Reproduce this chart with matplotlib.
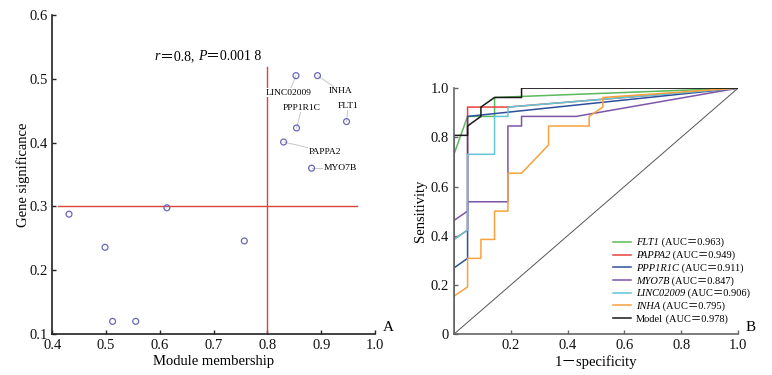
import matplotlib
matplotlib.use("Agg")
import matplotlib.pyplot as plt

plt.rcParams["font.family"] = ["Liberation Serif", "Noto Sans CJK SC", "DejaVu Sans"]

# panel A: module membership vs gene significance
mm = [0.431, 0.498, 0.512, 0.555, 0.613, 0.757, 0.853, 0.893, 0.947, 0.854, 0.830, 0.882]
gs = [0.288, 0.236, 0.120, 0.120, 0.298, 0.246, 0.505, 0.505, 0.433, 0.423, 0.401, 0.360]
gene_names = ["LINC02009", "INHA", "FLT1", "PPP1R1C", "PAPPA2", "MYO7B"]
gene_pts = [6, 7, 8, 9, 10, 11]
gene_text_xy = [(0.840, 0.478), (0.935, 0.481), (0.950, 0.458),
                (0.864, 0.455), (0.907, 0.386), (0.935, 0.360)]

# panel B: ROC curves
roc_labels = ["FLT1", "PAPPA2", "PPP1R1C", "MYO7B", "LINC02009", "INHA", "Model"]
roc_auc = ["0.963", "0.949", "0.911", "0.847", "0.906", "0.795", "0.978"]
roc_fpr = [
    [0, 0.048, 0.143, 0.143, 1],
    [0, 0.048, 0.048, 0.19, 1],
    [0, 0.048, 0.048, 1],
    [0, 0.048, 0.048, 0.19, 0.19, 0.238, 0.238, 0.43, 1],
    [0, 0.048, 0.048, 0.143, 0.143, 0.19, 0.19, 1],
    [0, 0.048, 0.048, 0.095, 0.095, 0.143, 0.143, 0.19, 0.19, 0.238, 0.333,
     0.333, 0.476, 0.476, 0.524, 0.524, 1],
    [0, 0, 0.048, 0.048, 0.095, 0.095, 0.143, 0.238, 0.238, 1],
]
roc_tpr = [
    [0.731, 0.885, 0.885, 0.962, 1],
    [0.385, 0.423, 0.923, 0.923, 1],
    [0.269, 0.308, 0.885, 1],
    [0.462, 0.5, 0.538, 0.538, 0.846, 0.846, 0.885, 0.885, 1],
    [0.385, 0.423, 0.731, 0.731, 0.885, 0.885, 0.923, 1],
    [0.154, 0.192, 0.308, 0.308, 0.385, 0.385, 0.5, 0.5, 0.654, 0.654, 0.769,
     0.846, 0.846, 0.885, 0.923, 0.962, 1],
    [0, 0.808, 0.808, 0.846, 0.885, 0.923, 0.962, 0.962, 1, 1],
]
roc_colors = ["#5cb85c", "#e8413a", "#2f4f9e", "#7d55a8", "#62c6d6", "#f7a13f", "#1a1a1a"]


def chain(ax, prev, s, **kw):
    # put a text piece right after the previous one
    return ax.annotate(s, xy=(1, 0), xycoords=prev, va="bottom", ha="left", zorder=10, **kw)


fig = plt.figure(figsize=(7.72, 3.75), dpi=100)

# ---- A
ax1 = fig.add_axes([0.0678, 0.109, 0.418, 0.851])
ax1.scatter(mm, gs, s=18, facecolors="none", edgecolors="#6868b8", linewidths=0.9, zorder=3)
for name, idx, (tx, ty) in zip(gene_names, gene_pts, gene_text_xy):
    ax1.plot([mm[idx], tx], [gs[idx], ty], color="#c8c8c8", lw=0.7, zorder=2)
    ax1.text(tx, ty, name, fontsize=6.8, ha="center", va="center",
             bbox=dict(facecolor="white", edgecolor="none", pad=0.3), zorder=4)
ax1.plot([0.411, 0.966], [0.3, 0.3], color="#d9453a", lw=1)
ax1.plot([0.8, 0.8], [0.1, 0.518], color="#d9453a", lw=1)
t = ax1.text(0.59, 0.525, "r", fontsize=10, style="italic", va="bottom")
t = chain(ax1, t, "\uff1d0.8, ", fontsize=10)
t = chain(ax1, t, "P", fontsize=10, style="italic")
chain(ax1, t, "\uff1d0.001 8", fontsize=10)
ax1.set_xlim(0.4, 1.0)
ax1.set_ylim(0.1, 0.6)
ax1.set_xticks([0.4, 0.5, 0.6, 0.7, 0.8, 0.9, 1.0])
ax1.set_yticks([0.1, 0.2, 0.3, 0.4, 0.5, 0.6])
ax1.set_xlabel("Module membership", fontsize=10.5, labelpad=2)
ax1.set_ylabel("Gene significance", fontsize=10.5, labelpad=-1)
ax1.text(1.025, 0.0, "A", transform=ax1.transAxes, fontsize=11, va="bottom")

# ---- B
ax2 = fig.add_axes([0.588, 0.109, 0.368, 0.656])
ax2.plot([0, 1], [0, 1], color="#555555", lw=0.7)
for fpr, tpr, c, lab in zip(roc_fpr, roc_tpr, roc_colors, roc_labels):
    ax2.plot(fpr, tpr, color=c, lw=1.1, label=lab)
ax2.set_xlim(0, 1.0)
ax2.set_ylim(0, 1.0)
ax2.set_xticks([0.2, 0.4, 0.6, 0.8, 1.0])
ax2.set_yticks([0, 0.2, 0.4, 0.6, 0.8, 1.0])
ax2.set_yticklabels(["0", "0.2", "0.4", "0.6", "0.8", "1.0"])
ax2.set_xlabel("1\uff0dspecificity", fontsize=10.5, labelpad=2)
ax2.set_ylabel("Sensitivity", fontsize=10.5, labelpad=3)
ax2.text(1.025, 0.0, "B", transform=ax2.transAxes, fontsize=11, va="bottom")
leg = ax2.legend(loc="lower left", bbox_to_anchor=(0.545, 0.025), frameon=False, fontsize=7.5,
                 handlelength=1.7, handletextpad=0.5, labelspacing=0.33, borderaxespad=0)
for txt, lab, auc in zip(leg.get_texts(), roc_labels, roc_auc):
    if lab != "Model":
        txt.set_style("italic")
    chain(ax2, txt, " (AUC\uff1d%s)" % auc, fontsize=7.5)

for ax, sc in ((ax1, "#222222"), (ax2, "#666666")):
    for s in ("top", "right"):
        ax.spines[s].set_visible(False)
    for s in ("left", "bottom"):
        ax.spines[s].set_color(sc)
        ax.spines[s].set_linewidth(1.2)
    ax.tick_params(direction="in", length=3, width=1, colors=sc, labelsize=10.5, labelcolor="#111111")

fig.savefig("out.png", dpi=100)
